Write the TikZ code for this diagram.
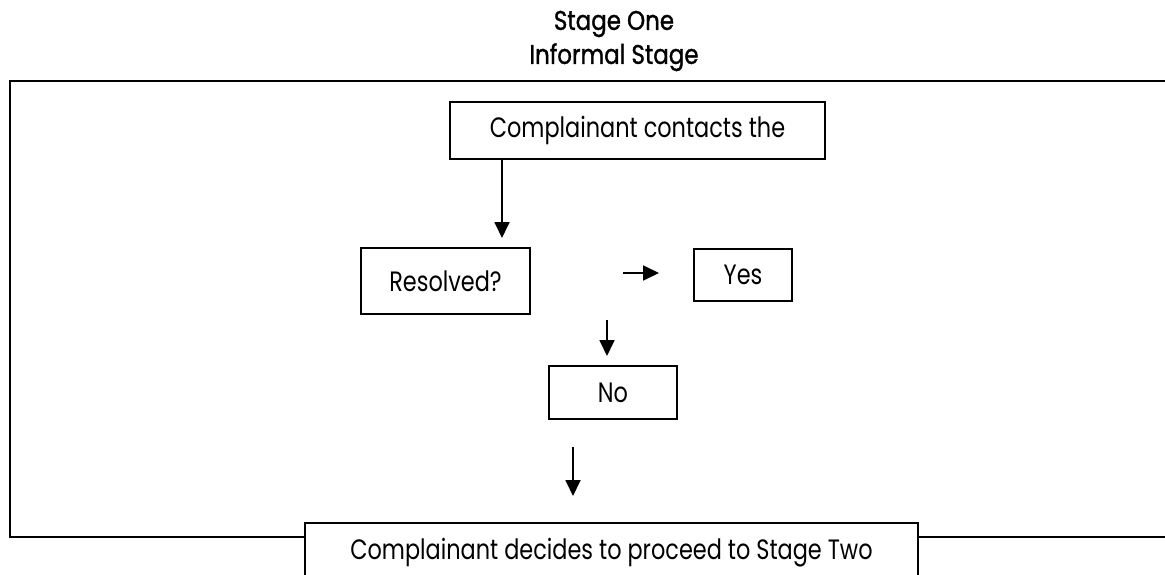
\documentclass[tikz,border=0pt]{standalone}
\usepackage{fontspec}
\setmainfont{Poppins}[FakeStretch=0.8]
\newfontfamily\titlefont{Poppins}[FakeStretch=0.85,FakeBold=1.2]
\usetikzlibrary{arrows.meta}
\begin{document}
\begin{tikzpicture}[x=1pt,y=-1pt,
  boxnode/.style={draw=black,line width=1.6pt,fill=white,inner sep=0pt,
    font=\fontsize{28}{32}\selectfont},
  arr/.style={line width=1.8pt,-{Triangle[width=15pt,length=16pt]}},
  frame/.style={draw=black,line width=1.6pt}]
\useasboundingbox (0,0) rectangle (1165,575);
\begin{scope}
\clip (0,0) rectangle (1165,575);
\node[align=center,font=\fontsize{27}{34}\titlefont] (title) at (614,41) {Stage One\\Informal Stage};
\draw[frame] (1175,81) -- (10,81) -- (10,537) -- (1175,537);
\node[boxnode,minimum width=375pt,minimum height=57pt] (box1) at (637.5,130.5) {Complainant contacts the};
\node[boxnode,minimum width=169pt,minimum height=66pt] (res) at (445.5,281) {Resolved?};
\node[boxnode,minimum width=98pt,minimum height=52pt] (yes) at (743,275) {Yes};
\node[boxnode,minimum width=128pt,minimum height=53pt] (no) at (613,392.5) {No};
\node[boxnode,minimum width=613pt,minimum height=60pt] (final) at (611.5,553) {Complainant decides to proceed to Stage Two};
\coordinate (a1end) at (502,238);
\coordinate (a2start) at (623,273);
\coordinate (a2end) at (659,273);
\coordinate (a3start) at (607,320);
\coordinate (a3end) at (607,356);
\coordinate (a4start) at (573,447);
\coordinate (a4end) at (573,496);
\draw[arr] (box1.south -| a1end) -- (a1end);
\draw[arr] (a2start) -- (a2end);
\draw[arr] (a3start) -- (a3end);
\draw[arr] (a4start) -- (a4end);
\end{scope}
\end{tikzpicture}
\end{document}
